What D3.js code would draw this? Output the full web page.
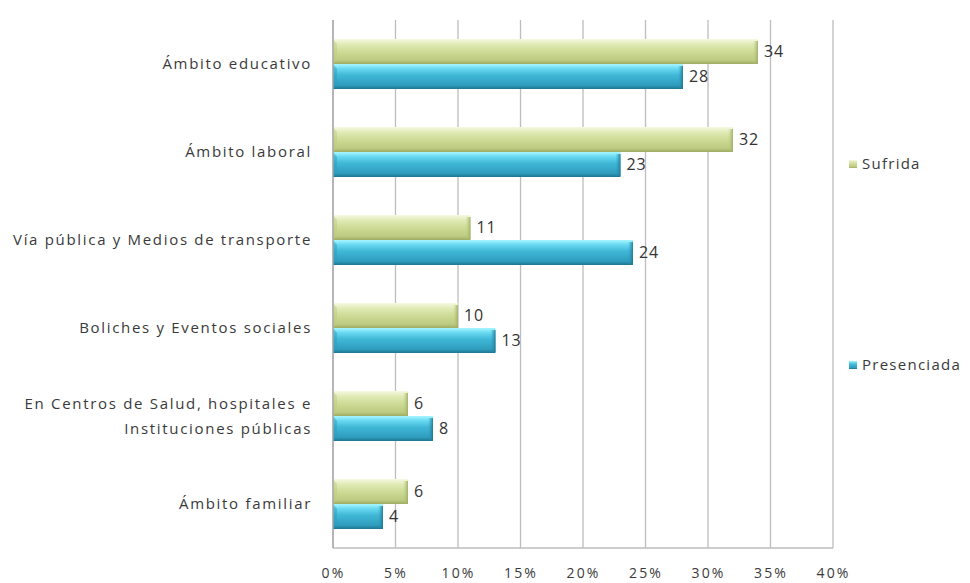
<!DOCTYPE html>
<html>
<head>
<meta charset="utf-8">
<script src="https://cdn.jsdelivr.net/npm/d3@7"></script>
<style>
  html, body { margin: 0; padding: 0; background: #fff; }
  svg { display: block; }
  text { font-family: "Open Sans", "Liberation Sans", sans-serif; fill: #3a3a3a; }
</style>
</head>
<body>
<svg id="chart" width="970" height="583"></svg>
<script>
// Categories (top to bottom); multi-line labels split with "\n"
const categories = [
  "Ámbito educativo",
  "Ámbito laboral",
  "Vía pública y Medios de transporte",
  "Boliches y Eventos sociales",
  "En Centros de Salud, hospitales e\nInstituciones públicas",
  "Ámbito familiar"
];
const seriesNames = ["Sufrida", "Presenciada"];
const sufrida = [34, 32, 11, 10, 6, 6];
const presenciada = [28, 23, 24, 13, 8, 4];
const tickValues = [0, 5, 10, 15, 20, 25, 30, 35, 40];

const svg = d3.select("#chart");
const margin = { left: 333, right: 137, top: 20, bottom: 35 };
const W = 970, H = 583;

const x = d3.scaleLinear().domain([0, 40]).range([margin.left, W - margin.right]);
const y = d3.scaleBand().domain(categories).range([margin.top, H - margin.bottom]);
const ySub = d3.scaleBand().domain(seriesNames).range([0, y.bandwidth()])
  .paddingInner(0).paddingOuter(0.76);

// Spread a font's glyphs so a reference string spans the wanted width
function spacingFor(sample, size, width) {
  const t = svg.append("text").style("font-size", size + "px").text(sample);
  const w = t.node().getComputedTextLength();
  t.remove();
  return Math.max(0, (width - w) / sample.length);
}
const catSpacing = spacingFor("Vía pública y Medios de transporte", 15, 299);
const tickSpacing = spacingFor("10%", 14, 34);
const legSpacing = spacingFor("Presenciada", 15, 99);

// Gradients giving the bars their bevelled, glossy look
const defs = svg.append("defs");
const palettes = {
  Sufrida: ["#f6f9e2", "#e2ebb9", "#d0de9a", "#bccb80", "#9dab64"],
  Presenciada: ["#a6f6ff", "#66d8f0", "#40b7d7", "#2f9cbd", "#1d7590"]
};
seriesNames.forEach(s => {
  const g = defs.append("linearGradient").attr("id", "g-" + s)
    .attr("x1", 0).attr("y1", 0).attr("x2", 0).attr("y2", 1);
  const c = palettes[s];
  [[0, c[0]], [0.2, c[1]], [0.45, c[2]], [0.85, c[3]], [1, c[4]]].forEach(([o, col]) =>
    g.append("stop").attr("offset", o).attr("stop-color", col));
  const e = defs.append("linearGradient").attr("id", "e-" + s)
    .attr("x1", 0).attr("y1", 0).attr("x2", 1).attr("y2", 0);
  e.append("stop").attr("offset", 0).attr("stop-color", c[3]).attr("stop-opacity", 0);
  e.append("stop").attr("offset", 1).attr("stop-color", c[4]).attr("stop-opacity", 0.9);
});

// Vertical gridlines
svg.append("g").selectAll("line").data(tickValues).join("line")
  .attr("x1", d => x(d)).attr("x2", d => x(d))
  .attr("y1", margin.top).attr("y2", H - margin.bottom)
  .attr("stroke", "#bdbdbd").attr("stroke-width", 1.3);

// Bottom axis line
svg.append("line")
  .attr("x1", x(0)).attr("x2", x(40))
  .attr("y1", H - margin.bottom).attr("y2", H - margin.bottom)
  .attr("stroke", "#bdbdbd").attr("stroke-width", 1.3);

// X axis tick labels
const xAxis = d3.axisBottom(x).tickValues(tickValues).tickFormat(d => d + "%").tickSize(0).tickPadding(20);
const gx = svg.append("g").attr("transform", `translate(0,${H - margin.bottom})`).call(xAxis);
gx.select(".domain").remove();
gx.selectAll("text").style("font-size", "14px").style("fill", "#3a3a3a")
  .style("letter-spacing", tickSpacing + "px")
  .style("font-family", "'Open Sans', sans-serif");

// Category labels
const yLab = svg.append("g");
categories.forEach(c => {
  const lines = c.split("\n");
  const cy = y(c) + y.bandwidth() / 2;
  const t = yLab.append("text")
    .attr("x", 312).attr("text-anchor", "end")
    .style("font-size", "15px").style("letter-spacing", catSpacing + "px");
  lines.forEach((ln, i) => {
    t.append("tspan").attr("x", 312)
      .attr("y", cy + (i - (lines.length - 1) / 2) * 25)
      .attr("dy", "0.35em").text(ln);
  });
});

// Bars
const rows = categories.map((c, i) => ({ c, Sufrida: sufrida[i], Presenciada: presenciada[i] }));
const barG = svg.append("g");
const labG = svg.append("g");
seriesNames.forEach(s => {
  const g = barG.append("g");
  rows.forEach(r => {
    const y0 = y(r.c) + ySub(s);
    const h = ySub.bandwidth();
    const x0 = x(0), x1 = x(r[s]);
    g.append("rect").attr("x", x0).attr("y", y0).attr("width", x1 - x0).attr("height", h)
      .attr("fill", `url(#g-${s})`);
    // bevelled right end
    g.append("rect").attr("x", x1 - 5).attr("y", y0 + 2).attr("width", 5).attr("height", h - 3)
      .attr("fill", `url(#e-${s})`);
    // left bevel
    g.append("path")
      .attr("d", `M${x0},${y0} L${x0 + 4},${y0 + 5} L${x0 + 4},${y0 + h - 4} L${x0},${y0 + h} Z`)
      .attr("fill", palettes[s][3]).attr("opacity", 0.5);
    // value label
    labG.append("text")
      .attr("x", x1 + 6).attr("y", y0 + h / 2).attr("dy", "0.35em")
      .style("font-size", "16px").style("letter-spacing", "0.8px").style("fill", "#333")
      .text(r[s]);
  });
});

// Left axis line
svg.append("line")
  .attr("x1", x(0)).attr("x2", x(0))
  .attr("y1", margin.top).attr("y2", H - margin.bottom)
  .attr("stroke", "#a6a6a6").attr("stroke-width", 1.3);

// Legend
const legendY = { Sufrida: 164, Presenciada: 365 };
seriesNames.forEach(s => {
  const lg = svg.append("g").attr("transform", `translate(849,${legendY[s]})`);
  lg.append("rect").attr("x", 0).attr("y", -4).attr("width", 8).attr("height", 8)
    .attr("fill", `url(#g-${s})`);
  lg.append("text").attr("x", 13).attr("y", 0).attr("dy", "0.35em")
    .style("font-size", "15px").style("letter-spacing", legSpacing + "px").text(s);
});
</script>
</body>
</html>
